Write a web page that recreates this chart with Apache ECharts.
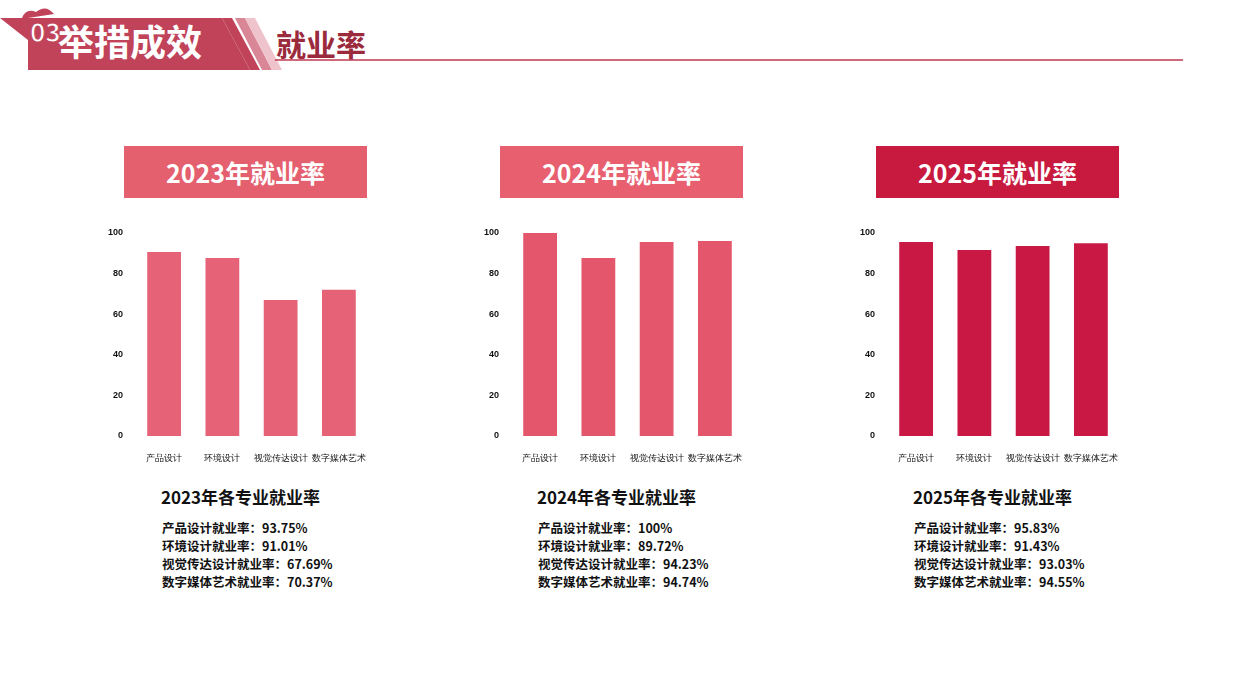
<!DOCTYPE html>
<html><head><meta charset="utf-8">
<script src="https://cdn.jsdelivr.net/npm/echarts@6/dist/echarts.min.js"></script>
<style>
body{margin:0;width:1237px;height:695px;position:relative;background:#fff;font-family:"Noto Sans CJK SC",sans-serif;overflow:hidden}
.box{position:absolute;top:146px;width:243px;height:52px;color:#fff;font-size:25px;font-weight:bold;text-align:center;line-height:52px}
.ch{position:absolute;top:215px;width:290px;height:260px}
.sub{position:absolute;top:484px;font-size:17px;font-weight:bold;color:#111}
.lst{position:absolute;top:519px;font-size:12.5px;font-weight:bold;color:#111;line-height:18px}
</style></head><body>
<svg width="1237" height="80" style="position:absolute;left:0;top:0">
<path d="M22,18 q4,-10 14,-6 q10,-8 18,2 L28,18 Z" fill="#c0435a"/>
<polygon points="0,18 222,18 250,70 28,70 28,40" fill="#c0435a"/>
<polygon points="222,18 232,18 260,70 250,70" fill="#c0435a"/>
<polygon points="235,18 245,18 272,70 262,70" fill="#d98797"/>
<polygon points="245,18 255,18 282,70 272,70" fill="#efc3cc"/>
<line x1="275" y1="60" x2="1183" y2="60" stroke="#c0394f" stroke-width="1.5"/>
<text x="30" y="42" fill="#fff" font-size="26" font-weight="bold" font-family="Noto Sans CJK SC" stroke="#c0435a" stroke-width="1">03</text>
<text x="58" y="56" fill="#fff" font-size="36" font-weight="bold" font-family="Noto Sans CJK SC">举措成效</text>
<text x="276" y="56" fill="#9b2a3c" font-size="30" font-weight="bold" font-family="Noto Sans CJK SC">就业率</text>
</svg>
<div id="wrap"></div>
<script>
var years = ['2023', '2024', '2025'];
var majors = ['产品设计', '环境设计', '视觉传达设计', '数字媒体艺术'];
var bars2023 = [90.6, 87.7, 67, 72];
var bars2024 = [100, 87.7, 95.6, 96];
var bars2025 = [95.6, 91.6, 93.6, 95];
var text2023 = ['93.75%', '91.01%', '67.69%', '70.37%'];
var text2024 = ['100%', '89.72%', '94.23%', '94.74%'];
var text2025 = ['95.83%', '91.43%', '93.03%', '94.55%'];
var boxColors = ['#e5606f', '#e8606f', '#c8193f'];
var barColors = ['#e56277', '#e4566b', '#c81843'];
var allBars = [bars2023, bars2024, bars2025];
var allText = [text2023, text2024, text2025];
var wrap = document.getElementById('wrap');
for (var k = 0; k < 3; k++) {
  var off = 376 * k;
  var h = '<div class="box" style="left:' + (124 + off) + 'px;background:' + boxColors[k] + '">' + years[k] + '年就业率</div>';
  h += '<div class="ch" id="c' + k + '" style="left:' + (100 + off) + 'px"></div>';
  h += '<div class="sub" style="left:' + (161 + off) + 'px">' + years[k] + '年各专业就业率</div>';
  var l = '';
  for (var i = 0; i < 4; i++) l += majors[i] + '就业率：' + allText[k][i] + '<br>';
  h += '<div class="lst" style="left:' + (162 + off) + 'px">' + l + '</div>';
  wrap.insertAdjacentHTML('beforeend', h);
}
for (var k = 0; k < 3; k++) {
  var c = echarts.init(document.getElementById('c' + k));
  c.setOption({
    animation: false,
    grid: {left: 35, right: 22, top: 18, bottom: 39},
    xAxis: {type: 'category', data: majors, axisLine: {show: false}, axisTick: {show: false},
      axisLabel: {color: '#111', fontSize: 9, margin: 18, interval: 0}},
    yAxis: {type: 'value', min: 0, max: 100, interval: 20, splitLine: {show: false},
      axisLabel: {color: '#111', fontSize: 9, fontWeight: 'bold', margin: 12}},
    series: [{type: 'bar', data: allBars[k], barWidth: '58%', itemStyle: {color: barColors[k]}}]
  });
}
</script>
</body></html>
